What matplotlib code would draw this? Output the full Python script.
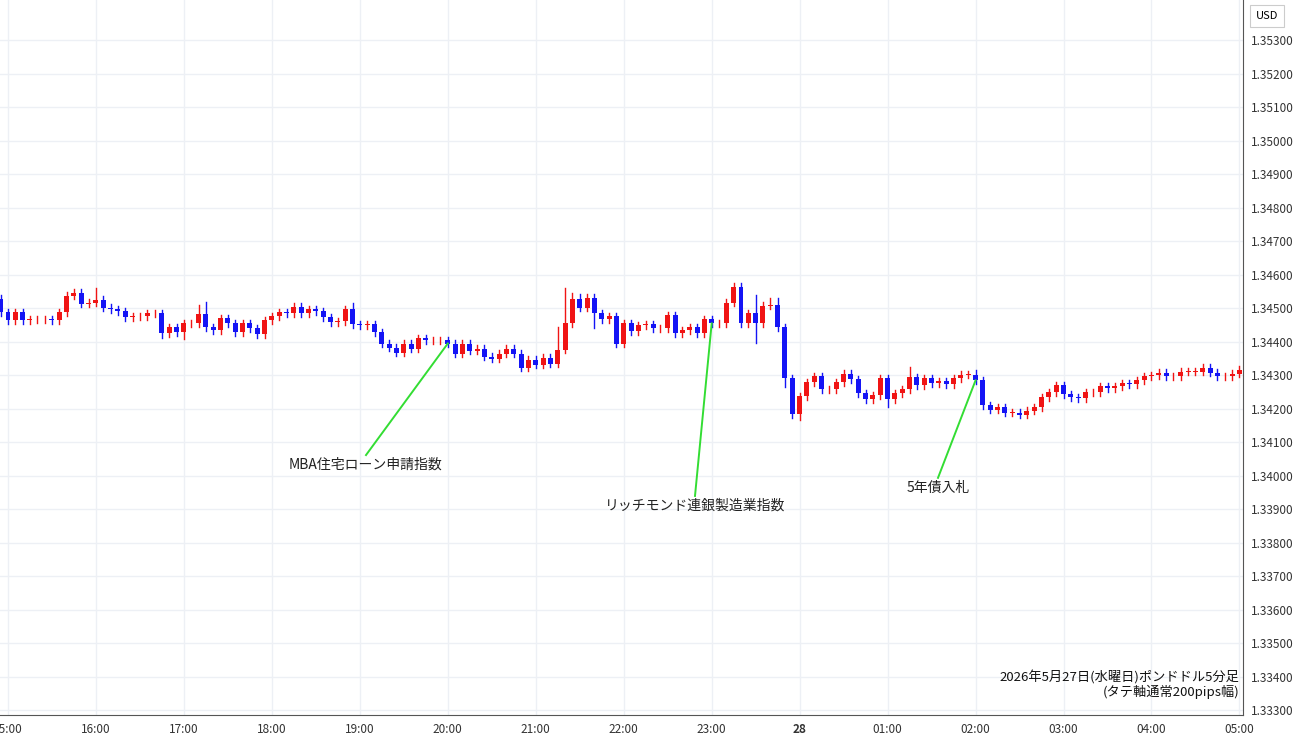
import matplotlib
matplotlib.use("Agg")
import matplotlib.pyplot as plt
from matplotlib.patches import Rectangle

plt.rcParams['font.family'] = ['Noto Sans CJK JP', 'DejaVu Sans']

first_open = 1.34528
closes = [
1.34487,1.34463,1.34487,1.34463,1.34466,1.34466,1.34466,1.34463,1.34487,1.34537,
1.34546,1.34513,1.34516,1.34525,1.34501,1.34496,1.34490,1.34472,1.34475,1.34475,
1.34484,1.34484,1.34424,1.34442,1.34427,1.34454,1.34454,1.34481,1.34442,1.34433,
1.34469,1.34454,1.34427,1.34454,1.34439,1.34421,1.34463,1.34475,1.34487,1.34484,
1.34504,1.34484,1.34496,1.34490,1.34472,1.34457,1.34460,1.34496,1.34451,1.34448,
1.34451,1.34427,1.34394,1.34382,1.34367,1.34394,1.34379,1.34409,1.34403,1.34403,
1.34403,1.34394,1.34364,1.34394,1.34373,1.34379,1.34355,1.34349,1.34364,1.34379,
1.34364,1.34322,1.34346,1.34331,1.34352,1.34334,1.34376,1.34454,1.34528,1.34501,
1.34531,1.34484,1.34466,1.34475,1.34394,1.34454,1.34430,1.34448,1.34451,1.34439,
1.34439,1.34478,1.34424,1.34433,1.34442,1.34424,1.34466,1.34454,1.34454,1.34516,
1.34564,1.34454,1.34484,1.34454,1.34507,1.34510,1.34442,1.34290,1.34185,1.34236,
1.34278,1.34296,1.34257,1.34257,1.34278,1.34304,1.34287,1.34245,1.34227,1.34239,
1.34290,1.34227,1.34245,1.34257,1.34293,1.34269,1.34290,1.34275,1.34281,1.34272,
1.34290,1.34301,1.34301,1.34284,1.34209,1.34197,1.34203,1.34188,1.34188,1.34182,
1.34194,1.34203,1.34233,1.34248,1.34269,1.34242,1.34233,1.34230,1.34248,1.34248,
1.34266,1.34260,1.34266,1.34275,1.34272,1.34284,1.34296,1.34299,1.34307,1.34296,
1.34296,1.34310,1.34310,1.34310,1.34322,1.34307,1.34296,1.34296,1.34304,1.34316]

# wick lengths in pips (default 1.0) for notable candles (1-based index)
upper_wicks = {14: 3.6, 28: 2.7, 29: 3.6, 49: 2.0, 77: 6.6, 78: 10.7, 79: 1.8, 80: 1.5,
               101: 1.2, 102: 1.2, 104: 5.4, 106: 2.0, 107: 2.0, 125: 3.0, 134: 1.5}
lower_wicks = {23: 1.5, 26: 2.0, 82: 4.5, 104: 5.7, 108: 2.7, 109: 1.2, 110: 2.0, 122: 2.4}

hour_labels = ["16:00","17:00","18:00","19:00","20:00","21:00","22:00","23:00","28",
               "01:00","02:00","03:00","04:00","05:00"]
y_ticks = [1.3330 + 0.001*k for k in range(21)]
events = [("MBA住宅ローン申請指数", 61), ("リッチモンド連銀製造業指数", 97), ("5年債入札", 133)]
text_price = [1.34052, 1.33930, 1.33984]

UP, DN = '#f01414', '#1414f5'
fig = plt.figure(figsize=(13, 7.45), dpi=100)
ax = fig.add_axes([0, 30/745, 1243/1300, 715/745])

opens = [first_open] + closes[:-1]
for i, (o, c) in enumerate(zip(opens, closes)):
    col = UP if c >= o else DN
    hi = max(o, c) + upper_wicks.get(i+1, 1.0)/10000
    lo = min(o, c) - lower_wicks.get(i+1, 1.0)/10000
    ax.plot([i, i], [lo, hi], color=col, lw=1, zorder=2)
    h = max(abs(c-o), 0.000012)
    ax.add_patch(Rectangle((i-0.34, min(o, c)), 0.68, h, color=col, zorder=3, lw=0))

text_pos = [(366-8)/7.33 + 1, (695-8)/7.33 + 1, (938-8)/7.33 + 1]
for (label, idx), tx, ty in zip(events, text_pos, text_price):
    ax.plot([idx, tx], [closes[idx], ty + 0.00009], color='#33dd33', lw=1.4, zorder=4)
    ax.text(tx, ty, label, ha='center', va='top', fontsize=10, color='#222222')

xt = [1 + 12*(k+1) for k in range(len(hour_labels))]
ax.set_xticks([1] + xt)
ax.set_xticklabels(["15:00"] + hour_labels, fontsize=8.5, color='#333333')
for lab in ax.get_xticklabels():
    if lab.get_text() == "28":
        lab.set_fontweight('bold')
ax.set_xlim(1 - 8/7.33, 1 + 1235/7.33)
ax.set_ylim(1.3530 - 675/33500, 1.3530 + 40/33500)
ax.yaxis.tick_right()
ax.set_yticks(y_ticks)
ax.set_yticklabels([f"{v:.5f}" for v in y_ticks], fontsize=8.5, color='#333333')
ax.tick_params(length=0, pad=6)
ax.grid(True, color='#edf0f5', lw=1)
ax.set_axisbelow(True)
for s in ['top', 'left']:
    ax.spines[s].set_visible(False)
ax.spines['right'].set_color('#555555')
ax.spines['bottom'].set_color('#555555')

ax.text(0.997, 0.043, "2026年5月27日(水曜日)ポンドドル5分足", transform=ax.transAxes,
        ha='right', va='bottom', fontsize=9.5, color='#111111')
ax.text(0.997, 0.022, "(タテ軸通常200pips幅)", transform=ax.transAxes,
        ha='right', va='bottom', fontsize=9.5, color='#111111')
fig.text(1267/1300, 1 - 16/745, "USD", ha='center', va='center', fontsize=8,
         bbox=dict(boxstyle='square,pad=0.5', fc='white', ec='#cccccc', lw=0.8))

fig.savefig("out.png", dpi=100, facecolor='white')
